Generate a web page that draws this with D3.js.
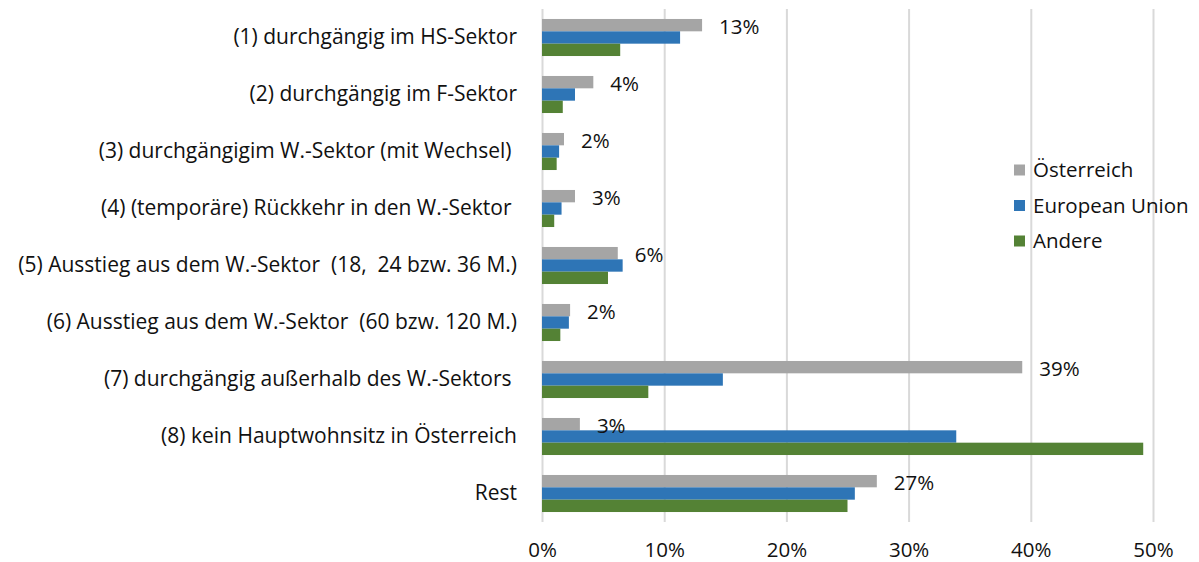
<!DOCTYPE html>
<html>
<head>
<meta charset="utf-8">
<script src="https://cdn.jsdelivr.net/npm/d3@7"></script>
<style>
  body { margin: 0; background: #fff; }
  svg text { font-family: "Open Sans", "Noto Sans", sans-serif; fill: #111; white-space: pre; }
</style>
</head>
<body>
<div id="chart"></div>
<script>
// categories (trailing spaces kept as in the source labels)
const categories = [
  "(1) durchgängig im HS-Sektor",
  "(2) durchgängig im F-Sektor",
  "(3) durchgängigim W.-Sektor (mit Wechsel) ",
  "(4) (temporäre) Rückkehr in den W.-Sektor ",
  "(5) Ausstieg aus dem W.-Sektor  (18,  24 bzw. 36 M.)",
  "(6) Ausstieg aus dem W.-Sektor  (60 bzw. 120 M.)",
  "(7) durchgängig außerhalb des W.-Sektors ",
  "(8) kein Hauptwohnsitz in Österreich",
  "Rest"
];
const seriesNames = ["Österreich", "European Union", "Andere"];
const oesterreich = [0.131, 0.042, 0.018, 0.027, 0.062, 0.023, 0.393, 0.031, 0.274];
const europeanUnion = [0.113, 0.027, 0.014, 0.016, 0.066, 0.022, 0.148, 0.339, 0.256];
const andere = [0.064, 0.017, 0.012, 0.010, 0.054, 0.015, 0.087, 0.492, 0.250];
const xTicks = [0, 0.1, 0.2, 0.3, 0.4, 0.5];
const colors = ["#A5A5A5", "#2E75B6", "#548235"];

const W = 1199, H = 562;
const plotLeft = 542, plotRight = 1153, plotTop = 9, plotBottom = 522;
const fs = 20.5;

const svg = d3.select("#chart").append("svg")
  .attr("width", W).attr("height", H);

const x = d3.scaleLinear().domain([0, 0.5]).range([plotLeft, plotRight]);
const y = d3.scaleBand().domain(categories).range([plotTop, plotBottom])
  .paddingInner(0.35).paddingOuter(0.175);
const y1 = d3.scaleBand().domain(seriesNames).range([0, y.bandwidth()]);
const color = d3.scaleOrdinal().domain(seriesNames).range(colors);

// gridlines
svg.append("g")
  .attr("transform", `translate(0,${plotBottom})`)
  .call(d3.axisBottom(x).tickValues(xTicks).tickSize(-(plotBottom - plotTop)).tickFormat(""))
  .call(g => g.select(".domain").remove())
  .call(g => g.selectAll("line").attr("stroke", "#D9D9D9").attr("stroke-width", 2));

// x tick labels
svg.append("g")
  .attr("transform", `translate(0,${plotBottom})`)
  .call(d3.axisBottom(x).tickValues(xTicks).tickSize(0).tickPadding(20).tickFormat(d3.format(".0%")))
  .call(g => g.select(".domain").remove())
  .call(g => g.selectAll("text").attr("font-size", fs).attr("fill", null).style("font-family", null));

// category labels
svg.append("g")
  .attr("transform", `translate(${plotLeft},0)`)
  .call(d3.axisLeft(y).tickSize(0).tickPadding(25))
  .call(g => g.select(".domain").remove())
  .call(g => g.selectAll("text").attr("font-size", 21).attr("fill", null).style("font-family", null));

const rows = categories.map((c, i) => ({
  cat: c,
  vals: [oesterreich[i], europeanUnion[i], andere[i]].map((v, k) => ({ key: seriesNames[k], value: v }))
}));

const groups = svg.append("g").selectAll("g")
  .data(rows).join("g")
  .attr("transform", d => `translate(0,${y(d.cat)})`);

groups.selectAll("rect")
  .data(d => d.vals).join("rect")
  .attr("x", x(0))
  .attr("y", d => y1(d.key))
  .attr("width", d => x(d.value) - x(0))
  .attr("height", y1.bandwidth())
  .attr("fill", d => color(d.key));

// data labels for Österreich only
groups.append("text")
  .attr("x", d => x(d.vals[0].value) + 17)
  .attr("y", y1(seriesNames[0]) + y1.bandwidth() / 2 + 2)
  .attr("dy", "0.35em")
  .attr("font-size", fs)
  .text(d => d3.format(".0%")(d.vals[0].value));

// legend
const legend = svg.append("g").attr("transform", "translate(1014,170)");
const li = legend.selectAll("g").data(seriesNames).join("g")
  .attr("transform", (d, i) => `translate(0,${i * 35.5})`);
li.append("rect").attr("x", 0).attr("y", -5.5).attr("width", 11).attr("height", 11)
  .attr("fill", d => color(d));
li.append("text").attr("x", 19).attr("dy", "0.35em").attr("font-size", fs).text(d => d);
</script>
</body>
</html>
